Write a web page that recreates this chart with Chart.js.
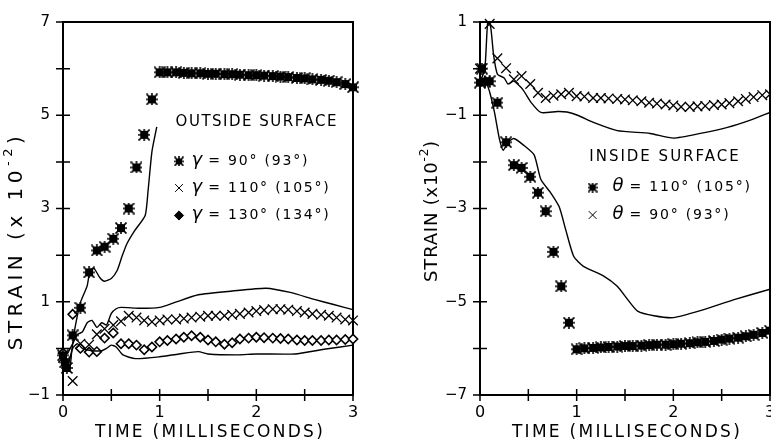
<!DOCTYPE html>
<html>
<head>
<meta charset="utf-8">
<script src="https://cdn.jsdelivr.net/npm/chart.js@4.4.0/dist/chart.umd.min.js"></script>
<style>
    html, body { margin: 0; padding: 0; background: #fff; width: 771px; height: 447px; overflow: hidden; }
    #outsideChart { position: absolute; left: 0; top: 0; }
    #insideChart { position: absolute; left: 385px; top: 0; }
</style>
</head>
<body>
<canvas id="outsideChart" width="385" height="447"></canvas>
<canvas id="insideChart" width="415" height="447"></canvas>
<script>
// ------------------------------------------------------------
// DATA (time in ms, strain x 10^-2)
// ------------------------------------------------------------
const TIME = [0, 0.1, 0.18, 0.27, 0.35, 0.43, 0.52, 0.6, 0.68, 0.76, 0.84, 0.92, 1.0,
    1.08, 1.17, 1.25, 1.33, 1.42, 1.5, 1.58, 1.67, 1.75, 1.83, 1.92, 2.0,
    2.08, 2.17, 2.25, 2.33, 2.42, 2.5, 2.58, 2.67, 2.75, 2.83, 2.92, 3.0];

// outside surface, measured
const OUT_90_START_T = [0.02, 0.04];
const OUT_90_START_V = [-0.3, -0.42];
const OUT_90 = [-0.15, 0.28, 0.87, 1.63, 2.1, 2.18, 2.35, 2.58, 3.0, 3.88, 4.58, 5.34, 5.92,
    5.92, 5.92, 5.91, 5.9, 5.9, 5.89, 5.89, 5.88, 5.88, 5.87, 5.86, 5.86,
    5.85, 5.84, 5.83, 5.82, 5.8, 5.79, 5.77, 5.76, 5.74, 5.71, 5.67, 5.6];
const OUT_110 = [-0.2, -0.7, 0.1, 0.08, 0.3, 0.42, 0.5, 0.58, 0.7, 0.66, 0.6, 0.57, 0.6,
    0.62, 0.62, 0.64, 0.66, 0.68, 0.7, 0.7, 0.7, 0.72, 0.74, 0.77, 0.8,
    0.82, 0.84, 0.84, 0.83, 0.8, 0.77, 0.74, 0.72, 0.7, 0.66, 0.62, 0.6];
const OUT_130 = [-0.1, 0.73, 0.0, -0.08, -0.07, 0.22, 0.33, 0.1, 0.1, 0.07, -0.03, 0.03, 0.14,
    0.17, 0.2, 0.24, 0.27, 0.24, 0.18, 0.14, 0.09, 0.12, 0.2, 0.22, 0.24,
    0.23, 0.22, 0.21, 0.2, 0.18, 0.17, 0.17, 0.17, 0.18, 0.18, 0.19, 0.2];

// outside surface, calculated curves
const OUT_CALC_90_T = [0.02, 0.07, 0.09, 0.12, 0.18, 0.25, 0.28, 0.32, 0.38, 0.43, 0.5, 0.56, 0.61, 0.66, 0.74, 0.85, 0.88, 0.92, 0.97];
const OUT_CALC_90_V = [-0.41, -0.41, -0.07, 0.39, 0.98, 1.34, 1.68, 1.72, 1.52, 1.44, 1.5, 1.67, 1.97, 2.24, 2.52, 2.85, 3.38, 4.22, 4.75];
const OUT_CALC_110_T = [0.05, 0.1, 0.15, 0.2, 0.25, 0.3, 0.35, 0.4, 0.45, 0.5, 0.55, 0.6, 0.8, 1.0, 1.15, 1.4, 1.75, 2.1, 2.35, 2.6, 2.8, 3.0];
const OUT_CALC_110_V = [-0.1, 0.1, 0.3, 0.35, 0.55, 0.6, 0.45, 0.55, 0.5, 0.75, 0.85, 0.88, 0.86, 0.88, 0.98, 1.15, 1.23, 1.29, 1.2, 1.05, 0.94, 0.83];
const OUT_CALC_130_T = [0.05, 0.1, 0.15, 0.2, 0.3, 0.4, 0.45, 0.5, 0.55, 0.62, 0.75, 1.0, 1.2, 1.4, 1.5, 1.8, 2.0, 2.4, 2.7, 3.0];
const OUT_CALC_130_V = [-0.4, 0.0, 0.1, 0.0, -0.05, -0.05, 0.0, 0.07, 0.03, -0.14, -0.22, -0.18, -0.12, -0.07, -0.12, -0.14, -0.12, -0.12, -0.02, 0.07];

// inside surface, measured
const IN_110_START_T = [0.02, 0.05];
const IN_110_START_V = [0.0, -0.28];
const IN_110 = [-0.3, -0.27, -0.73, -1.58, -2.07, -2.13, -2.32, -2.66, -3.06, -3.93, -4.67, -5.45, -6.02,
    -6.0, -5.99, -5.98, -5.97, -5.96, -5.95, -5.95, -5.94, -5.93, -5.92, -5.92, -5.91,
    -5.9, -5.89, -5.87, -5.86, -5.84, -5.81, -5.79, -5.77, -5.74, -5.71, -5.67, -5.62];
const IN_90 = [0.0, 0.96, 0.22, 0.01, -0.23, -0.16, -0.33, -0.52, -0.63, -0.58, -0.55, -0.52, -0.59,
    -0.6, -0.63, -0.63, -0.64, -0.65, -0.66, -0.68, -0.7, -0.73, -0.75, -0.77, -0.79,
    -0.82, -0.82, -0.81, -0.8, -0.78, -0.77, -0.74, -0.7, -0.65, -0.61, -0.57, -0.55];

// inside surface, calculated curves
const IN_CALC_90_T = [0.0, 0.05, 0.08, 0.11, 0.14, 0.18, 0.25, 0.29, 0.35, 0.44, 0.53, 0.63, 0.8, 0.9, 1.01, 1.18, 1.42, 1.76, 2.0, 2.28, 2.56, 2.79, 3.0];
const IN_CALC_90_V = [-0.3, 0.0, 1.0, 0.9, 0.3, -0.12, -0.2, -0.33, -0.27, -0.44, -0.73, -0.94, -0.92, -0.93, -1.0, -1.16, -1.33, -1.39, -1.49, -1.39, -1.26, -1.11, -0.94];
const IN_CALC_110_T = [0.05, 0.1, 0.15, 0.2, 0.24, 0.29, 0.35, 0.45, 0.56, 0.63, 0.73, 0.82, 0.89, 0.97, 1.07, 1.28, 1.42, 1.53, 1.63, 1.8, 2.0, 2.28, 2.62, 3.0];
const IN_CALC_110_V = [-0.2, -0.5, -0.94, -1.5, -1.75, -1.58, -1.5, -1.64, -1.85, -2.38, -2.66, -2.97, -3.48, -4.03, -4.24, -4.45, -4.67, -4.96, -5.2, -5.3, -5.34, -5.19, -4.96, -4.73];

const pts = (t, v) => t.map((x, i) => ({ x: x, y: v[i] }));

Chart.defaults.font.family = "'DejaVu Sans', sans-serif";
Chart.defaults.color = "#000";

// ---------- MARKERS ----------
function starMarker(n, sq) {
    const c = document.createElement("canvas");
    c.width = n; c.height = n;
    const g = c.getContext("2d");
    const o = (n - sq) / 2, m = n / 2;
    g.fillStyle = "#000";
    g.fillRect(o, o, sq, sq);
    g.strokeStyle = "#000";
    g.lineWidth = 1.6;
    g.beginPath();
    g.moveTo(m, 0); g.lineTo(m, n);
    g.moveTo(0, m); g.lineTo(n, m);
    g.moveTo(0.5, 0.5); g.lineTo(n - 0.5, n - 0.5);
    g.moveTo(n - 0.5, 0.5); g.lineTo(0.5, n - 0.5);
    g.stroke();
    return c;
}
const MARK = {
    star: { pointStyle: starMarker(12, 8), radius: 6, borderWidth: 1, borderColor: "#000", backgroundColor: "#000" },
    starKey: { pointStyle: starMarker(10, 6), radius: 5, borderWidth: 1, borderColor: "#000", backgroundColor: "#000" },
    cross: { pointStyle: "crossRot", radius: 6.8, borderWidth: 1.3, borderColor: "#000", backgroundColor: "#000" },
    crossKey: { pointStyle: "crossRot", radius: 5.5, borderWidth: 1.3, borderColor: "#000", backgroundColor: "#000" },
    diamond: { pointStyle: "rectRot", radius: 4.6, borderWidth: 1.6, borderColor: "#000", backgroundColor: "#fff" }
};

function markSet(data, m) {
    return {
        data: data,
        showLine: false,
        pointStyle: m.pointStyle,
        pointRadius: m.radius,
        pointBorderWidth: m.borderWidth,
        pointBorderColor: m.borderColor,
        pointBackgroundColor: m.backgroundColor,
        clip: false
    };
}
function calcSet(data) {
    return {
        data: data,
        showLine: true,
        borderColor: "#000",
        borderWidth: 1.4,
        pointRadius: 0,
        tension: 0.2,
        fill: false
    };
}

// ------------------------------------------------------------
// FRAME + CROSSING TICKS
// ------------------------------------------------------------
const frame = {
    id: "frame",
    beforeDatasetsDraw(chart) {
        const { ctx, chartArea: a, scales } = chart;
        ctx.save();
        ctx.strokeStyle = "#000";
        ctx.lineWidth = 2;
        ctx.strokeRect(a.left, a.top, a.right - a.left, a.bottom - a.top);
        ctx.lineWidth = 1.5;
        ctx.beginPath();
        scales.y.ticks.forEach(t => {
            const y = scales.y.getPixelForValue(t.value);
            ctx.moveTo(a.left - 7, y); ctx.lineTo(a.left + 7, y);
        });
        scales.x.ticks.forEach(t => {
            const x = scales.x.getPixelForValue(t.value);
            ctx.moveTo(x, a.bottom - 6); ctx.lineTo(x, a.bottom + 6);
        });
        ctx.stroke();
        ctx.restore();
    }
};

// ------------------------------------------------------------
// TITLES + IN-PLOT KEY
// ------------------------------------------------------------
function spacedText(ctx, text, x, y, spacing) {
    ctx.letterSpacing = spacing + "px";
    ctx.fillText(text, x, y);
    ctx.letterSpacing = "0px";
}

const notes = {
    id: "notes",
    afterDraw(chart, args, o) {
        const { ctx, chartArea: a, scales: { x, y } } = chart;
        ctx.save();
        ctx.fillStyle = "#000";
        ctx.textBaseline = "middle";

        // x title
        ctx.font = "17px 'DejaVu Sans'";
        ctx.textAlign = "center";
        spacedText(ctx, "TIME (MILLISECONDS)", (a.left + a.right) / 2 + 2, 433, 2.3);

        // y title, rotated, with superscript
        ctx.save();
        ctx.translate(o.yTitleX, o.yTitleY);
        ctx.rotate(-Math.PI / 2);
        ctx.textAlign = "left";
        ctx.letterSpacing = o.ySpacing + "px";
        const big = o.ySize + "px 'DejaVu Sans'";
        const small = Math.round(o.ySize * 0.65) + "px 'DejaVu Sans'";
        const main = o.yMain;
        ctx.font = big;
        const wMain = ctx.measureText(main).width;
        const wEnd = ctx.measureText(")").width;
        ctx.font = small;
        const wSup = ctx.measureText("-2").width;
        let cx = -(wMain + wSup + wEnd) / 2;
        ctx.font = big;
        ctx.fillText(main, cx, 0);
        cx += wMain;
        ctx.font = small;
        ctx.fillText("-2", cx, -o.ySize * 0.4);
        cx += wSup;
        ctx.font = big;
        ctx.fillText(")", cx, 0);
        ctx.restore();

        // heading
        ctx.textAlign = "left";
        ctx.font = "15px 'DejaVu Sans'";
        spacedText(ctx, o.heading, x.getPixelForValue(o.headAt[0]), y.getPixelForValue(o.headAt[1]), o.headSpacing);

        // key rows
        o.rows.forEach(r => {
            const py = y.getPixelForValue(r.v);
            Chart.helpers.drawPoint(ctx, MARK[r.mark], x.getPixelForValue(o.markAt), py);
            let px = x.getPixelForValue(o.textAt);
            ctx.fillStyle = "#000";
            ctx.font = "italic 18px 'DejaVu Sans'";
            ctx.fillText(r.greek, px, py - 1);
            px += ctx.measureText(r.greek).width + 6;
            ctx.font = "14px 'DejaVu Sans'";
            spacedText(ctx, r.text, px, py, 1.8);
        });
        ctx.restore();
    }
};

// ------------------------------------------------------------
// SHARED AXIS OPTIONS
// ------------------------------------------------------------
function axes(yMin, yMax, yWidth) {
    return {
        x: {
            type: "linear",
            min: 0, max: 3,
            grid: { display: false, drawTicks: false },
            border: { display: false },
            ticks: {
                stepSize: 0.5, autoSkip: false, maxRotation: 0, padding: 8,
                font: { size: 16 },
                callback: v => Number.isInteger(v) ? String(v) : ""
            },
            afterFit: s => { s.height = 52; }
        },
        y: {
            type: "linear",
            min: yMin, max: yMax,
            grid: { display: false, drawTicks: false },
            border: { display: false },
            ticks: {
                stepSize: 1, autoSkip: false, padding: 13,
                font: { size: 15 },
                callback: v => (v % 2 !== 0) ? String(v).replace("-", "\u2212") : ""
            },
            afterFit: s => { s.width = yWidth; }
        }
    };
}

// ------------------------------------------------------------
// OUTSIDE SURFACE
// ------------------------------------------------------------
new Chart(document.getElementById("outsideChart"), {
    type: "scatter",
    data: {
        datasets: [
            calcSet(pts(OUT_CALC_90_T, OUT_CALC_90_V)),
            calcSet(pts(OUT_CALC_110_T, OUT_CALC_110_V)),
            calcSet(pts(OUT_CALC_130_T, OUT_CALC_130_V)),
            markSet(pts(OUT_90_START_T, OUT_90_START_V).concat(pts(TIME, OUT_90)), MARK.star),
            markSet(pts(TIME, OUT_110), MARK.cross),
            markSet(pts(TIME, OUT_130), MARK.diamond)
        ]
    },
    options: {
        responsive: false,
        animation: false,
        layout: { padding: { top: 15, right: 32, left: 0, bottom: 0 } },
        scales: axes(-1, 7, 63),
        plugins: {
            legend: { display: false },
            tooltip: { enabled: false },
            notes: {
                yTitleX: 17, yTitleY: 241, ySize: 20, ySpacing: 4.5, yMain: "STRAIN (x 10",
                heading: "OUTSIDE SURFACE", headAt: [1.165, 4.85], headSpacing: 1.5,
                markAt: 1.2, textAt: 1.33,
                rows: [
                    { mark: "starKey", v: 4.01, greek: "\u03b3", text: "= 90\u00b0 (93\u00b0)" },
                    { mark: "crossKey", v: 3.44, greek: "\u03b3", text: "= 110\u00b0 (105\u00b0)" },
                    { mark: "diamond", v: 2.85, greek: "\u03b3", text: "= 130\u00b0 (134\u00b0)" }
                ]
            }
        }
    },
    plugins: [frame, notes]
});

// ------------------------------------------------------------
// INSIDE SURFACE
// ------------------------------------------------------------
new Chart(document.getElementById("insideChart"), {
    type: "scatter",
    data: {
        datasets: [
            calcSet(pts(IN_CALC_90_T, IN_CALC_90_V)),
            calcSet(pts(IN_CALC_110_T, IN_CALC_110_V)),
            markSet(pts(IN_110_START_T, IN_110_START_V).concat(pts(TIME, IN_110)), MARK.star),
            markSet(pts(TIME, IN_90), MARK.cross)
        ]
    },
    options: {
        responsive: false,
        animation: false,
        layout: { padding: { top: 15, right: 30, left: 0, bottom: 0 } },
        scales: axes(-7, 1, 95),
        plugins: {
            legend: { display: false },
            tooltip: { enabled: false },
            notes: {
                yTitleX: 47, yTitleY: 211, ySize: 18, ySpacing: 0.8, yMain: "STRAIN (x10",
                heading: "INSIDE SURFACE", headAt: [1.13, -1.9], headSpacing: 2,
                markAt: 1.165, textAt: 1.37,
                rows: [
                    { mark: "starKey", v: -2.55, greek: "\u03b8", text: "= 110\u00b0 (105\u00b0)" },
                    { mark: "crossKey", v: -3.14, greek: "\u03b8", text: "= 90\u00b0 (93\u00b0)" }
                ]
            }
        }
    },
    plugins: [frame, notes]
});
</script>
</body>
</html>
